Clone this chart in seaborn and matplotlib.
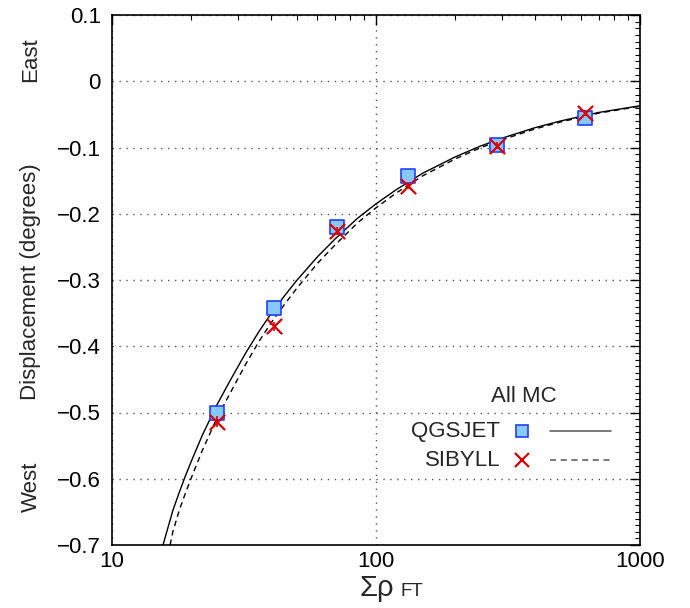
import numpy as np
import pandas as pd
import matplotlib
matplotlib.use("Agg")
import matplotlib.pyplot as plt
import seaborn as sns
from matplotlib.lines import Line2D
from matplotlib.ticker import MultipleLocator, LogLocator, NullFormatter, FixedLocator, FixedFormatter, FuncFormatter

# ---- data ----
sum_rho = [25, 41, 71, 132, 287, 619]
qgsjet_disp = [-0.500, -0.343, -0.220, -0.143, -0.096, -0.055]
sibyll_disp = [-0.514, -0.370, -0.226, -0.158, -0.097, -0.048]
qgsjet_err = [0.008, 0.007, 0.006, 0.005, 0.005, 0.005]
sibyll_err = [0.008, 0.007, 0.006, 0.005, 0.005, 0.005]

# fit curves, values
fit_q_x = [15.6, 17, 18, 19, 20, 22, 25, 28, 32, 36, 40, 45, 50, 60, 70, 85, 100,
           120, 150, 200, 250, 300, 400, 500, 700, 1000]
fit_q_y = [-0.700, -0.648, -0.620, -0.595, -0.573, -0.534, -0.488, -0.452, -0.411,
           -0.378, -0.351, -0.324, -0.301, -0.265, -0.238, -0.207, -0.185, -0.163,
           -0.139, -0.114, -0.0975, -0.086, -0.0701, -0.060, -0.047, -0.037]
fit_s_x = [16.6, 17, 18, 19, 20, 22, 25, 28, 32, 36, 40, 45, 50, 60, 70, 85, 100,
           120, 150, 200, 250, 300, 400, 500, 700, 1000]
fit_s_y = [-0.700, -0.680, -0.647, -0.621, -0.598, -0.557, -0.508, -0.471, -0.428,
           -0.393, -0.365, -0.337, -0.313, -0.275, -0.247, -0.214, -0.191, -0.168,
           -0.143, -0.117, -0.100, -0.0884, -0.072, -0.0615, -0.048, -0.0378]

x_ticks = [10, 100, 1000]
x_ticklabels = ["10", "100", "1000"]
series_names = ["QGSJET", "SIBYLL"]

FS = 16
sns.set_theme(style="white")
plt.rcParams["font.family"] = ["Liberation Sans", "DejaVu Sans"]
plt.rcParams["axes.unicode_minus"] = True

fig = plt.figure(figsize=(6.9, 6.08), dpi=100)
ax = fig.add_axes([112 / 690, 1 - 545 / 608, (640 - 112) / 690, (545 - 15) / 608])

pts = pd.DataFrame({"x": sum_rho, "q": qgsjet_disp, "s": sibyll_disp})
fq = pd.DataFrame({"x": fit_q_x, "y": fit_q_y})
fs = pd.DataFrame({"x": fit_s_x, "y": fit_s_y})

sns.lineplot(data=fq, x="x", y="y", ax=ax, color="black", lw=1.0, sort=True, zorder=3)
sns.lineplot(data=fs, x="x", y="y", ax=ax, color="black", lw=1.0, sort=True,
             linestyle=(0, (4, 3)), zorder=3)

ax.errorbar(sum_rho, qgsjet_disp, yerr=qgsjet_err, fmt="none", ecolor="#2040ff",
            elinewidth=1.2, capsize=0, zorder=4)
sns.scatterplot(data=pts, x="x", y="q", ax=ax, marker="s", s=105,
                color="#87c8fa", edgecolor="#2040ff", linewidth=1.2, zorder=5)
ax.errorbar(sum_rho, sibyll_disp, yerr=sibyll_err, fmt="none", ecolor="#dd0000",
            elinewidth=1.2, capsize=0, zorder=6)
sns.scatterplot(data=pts, x="x", y="s", ax=ax, marker="x", s=120,
                color="#dd0000", linewidth=1.6, zorder=7)

ax.set_xscale("log")
ax.set_xlim(10, 1000)
ax.set_ylim(-0.7, 0.1)
ax.xaxis.set_major_locator(FixedLocator(x_ticks))
ax.xaxis.set_major_formatter(FixedFormatter(x_ticklabels))
ax.xaxis.set_minor_locator(LogLocator(base=10, subs=np.arange(2, 10)))
ax.xaxis.set_minor_formatter(NullFormatter())
ax.yaxis.set_major_locator(MultipleLocator(0.1))
ax.yaxis.set_minor_locator(MultipleLocator(0.01))
ax.yaxis.set_major_formatter(FuncFormatter(
    lambda v, p: "0" if abs(v) < 1e-9 else f"{v:.1f}".replace("-", "\u2212")))

ax.tick_params(which="both", direction="in", top=True, right=True,
               labelsize=FS, colors="black")
ax.tick_params(which="major", length=7, width=1.0)
ax.tick_params(axis="y", which="major", pad=8)
ax.tick_params(axis="x", which="major", pad=4)
ax.tick_params(which="minor", length=3.5, width=0.8)
for sp in ax.spines.values():
    sp.set_color("black")
    sp.set_linewidth(1.2)

ax.grid(True, which="major", color="#555555", linestyle=(0, (1, 4)), linewidth=1.0)
ax.set_xlabel("")
ax.set_ylabel("")

# axis titles
fig.text(31 / 690, 1 - 282 / 608, "Displacement (degrees)", rotation=90,
         ha="center", va="center", fontsize=FS)
fig.text(31 / 690, 1 - 60 / 608, "East", rotation=90, ha="center", va="center", fontsize=FS)
fig.text(31 / 690, 1 - 487 / 608, "West", rotation=90, ha="center", va="center", fontsize=FS)
fig.text(394 / 690, 1 - 596 / 608, "\u03a3\u03c1", ha="right", va="baseline", fontsize=21)
fig.text(400 / 690, 1 - 596 / 608, "FT", ha="left", va="baseline", fontsize=13.5)

# legend (gnuplot style: label, point, line) in axes coordinates
def axp(px, py):
    return (px - 112) / 528, (545 - py) / 530

tx, ty = axp(524, 397)
ax.text(tx, ty, "All MC", transform=ax.transAxes, ha="center", va="center", fontsize=FS)
rows = [431, 460]
styles = [
    dict(marker="s", markersize=9, markerfacecolor="#87c8fa", markeredgecolor="#2040ff", mew=1.2),
    dict(marker="x", markersize=10, color="#dd0000", mew=1.6),
]
lstyles = ["-", (0, (4, 3))]
for name, row, st, ls in zip(series_names, rows, styles, lstyles):
    lx, ly = axp(500, row)
    ax.text(lx, ly, name, transform=ax.transAxes, ha="right", va="center", fontsize=FS)
    mx, my = axp(522, row)
    ax.add_line(Line2D([mx], [my], transform=ax.transAxes, linestyle="none",
                       clip_on=False, zorder=8, **st))
    x0, _ = axp(550, row)
    x1, _ = axp(611, row)
    ax.add_line(Line2D([x0, x1], [my, my], transform=ax.transAxes, color="#555555",
                       lw=1.1, linestyle=ls, zorder=8))

fig.savefig("out.png", dpi=100)
